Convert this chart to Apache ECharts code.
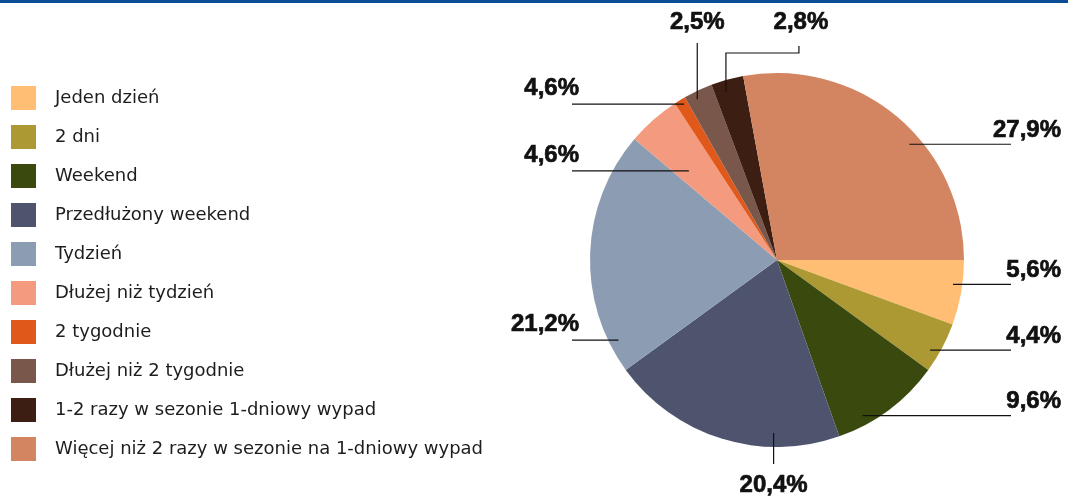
<!DOCTYPE html>
<html>
<head>
<meta charset="utf-8">
<script src="https://cdn.jsdelivr.net/npm/echarts@6/dist/echarts.min.js"></script>
<style>
  html, body { margin: 0; padding: 0; background: #fff; }
  #container { width: 1068px; height: 498px; }
</style>
</head>
<body>
<div id="container"></div>
<script>
// categories and values (percent of respondents)
const categories = [
  'Jeden dzień',
  '2 dni',
  'Weekend',
  'Przedłużony weekend',
  'Tydzień',
  'Dłużej niż tydzień',
  '2 tygodnie',
  'Dłużej niż 2 tygodnie',
  '1-2 razy w sezonie 1-dniowy wypad',
  'Więcej niż 2 razy w sezonie na 1-dniowy wypad'
];
const values = [5.6, 4.4, 9.6, 20.4, 21.2, 4.6, 1.0, 2.5, 2.8, 27.9];
// labels as printed on the original (the 2 tygodnie label reads 4,6%)
const labelTexts = ['5,6%', '4,4%', '9,6%', '20,4%', '21,2%', '4,6%', '4,6%', '2,5%', '2,8%', '27,9%'];
const colors = ['#FFBE73', '#AD9933', '#3A4A0F', '#4F546E', '#8C9DB3',
  '#F49A7E', '#E0581A', '#7A574B', '#3D1E13', '#D38562'];

// where each leader line starts inside its slice (fraction of slice angle, fraction of radius)
// and which way it runs
const labelSpots = [
  {t: 0.39, rf: 0.95, side: 'right'},
  {t: 0.65, rf: 0.95, side: 'right'},
  {t: 0.73, rf: 0.95, side: 'right'},
  {t: 0.28, rf: 0.925, side: 'down'},
  {t: 0.12, rf: 0.95, side: 'left'},
  {t: 0.30, rf: 0.67, side: 'left'},
  {t: 0.64, rf: 0.97, side: 'left'},
  {t: 0.35, rf: 0.96, side: 'up'},
  {t: 0.36, rf: 0.94, side: 'upRight', dx: 73},
  {t: 0.59, rf: 0.94, side: 'right'}
];

const cx = 777, cy = 260, R = 187;
const total = values.reduce((a, b) => a + b, 0);

function anchorOf(i) {
  let before = 0;
  for (let k = 0; k < i; k++) before += values[k];
  const s = -before / total * 360;
  const e = s - values[i] / total * 360;
  const spot = labelSpots[i];
  const a = (s + spot.t * (e - s)) * Math.PI / 180;
  const r = spot.rf * R;
  return [cx + r * Math.cos(a), cy - r * Math.sin(a)];
}

function placeLabel(params) {
  const i = params.dataIndex;
  const spot = labelSpots[i];
  const [ax, ay] = anchorOf(i);
  if (spot.side === 'right') {
    return {
      x: 1061, y: ay - 14, align: 'right', verticalAlign: 'middle',
      labelLinePoints: [[ax, ay], [1011, ay], [1011, ay]]
    };
  }
  if (spot.side === 'left') {
    return {
      x: 579, y: ay - 16, align: 'right', verticalAlign: 'middle',
      labelLinePoints: [[ax, ay], [572, ay], [572, ay]]
    };
  }
  if (spot.side === 'down') {
    return {
      x: ax, y: 485, align: 'center', verticalAlign: 'middle',
      labelLinePoints: [[ax, ay], [ax, 464], [ax, 464]]
    };
  }
  if (spot.side === 'up') {
    return {
      x: ax, y: 22, align: 'center', verticalAlign: 'middle',
      labelLinePoints: [[ax, ay], [ax, 43], [ax, 43]]
    };
  }
  // up then right
  return {
    x: ax + spot.dx + 2, y: 22, align: 'center', verticalAlign: 'middle',
    labelLinePoints: [[ax, ay], [ax, 53], [ax + spot.dx, 53], [ax + spot.dx, 46]]
  };
}

const graph = echarts.init(document.getElementById('container'));

const pieData = categories.map((name, i) => ({name: name, value: values[i]}));

const option = {
  animation: false,
  color: colors,
  graphic: [
    {
      type: 'rect',
      left: 0,
      top: 0,
      shape: {width: 1068, height: 3},
      style: {fill: '#0A4D97'}
    }
  ],
  legend: {
    orient: 'vertical',
    left: 6,
    top: 81,
    itemWidth: 25,
    itemHeight: 24,
    itemGap: 15,
    icon: 'rect',
    data: categories,
    textStyle: {
      fontFamily: 'DejaVu Sans',
      fontSize: 18,
      color: '#1d1d1d',
      padding: [0, 0, 0, 14]
    }
  },
  series: [
    {
      // the coloured slices
      type: 'pie',
      center: [cx, cy],
      radius: R,
      startAngle: 0,
      clockwise: true,
      itemStyle: {borderWidth: 0},
      emphasis: {disabled: true},
      label: {show: false},
      labelLine: {show: false},
      data: pieData
    },
    {
      // same pie, transparent, on top so the leader lines run over the slices
      type: 'pie',
      z: 5,
      silent: true,
      center: [cx, cy],
      radius: R,
      startAngle: 0,
      clockwise: true,
      avoidLabelOverlap: false,
      itemStyle: {color: 'rgba(0,0,0,0)', borderWidth: 0},
      emphasis: {disabled: true},
      label: {
        show: true,
        position: 'outside',
        formatter: (p) => labelTexts[p.dataIndex],
        fontFamily: 'Liberation Sans',
        fontWeight: 'bold',
        fontSize: 24,
        color: '#111',
        textBorderColor: '#111',
        textBorderWidth: 0.7
      },
      labelLine: {
        show: true,
        lineStyle: {color: '#111', width: 1.2}
      },
      labelLayout: placeLabel,
      data: pieData
    }
  ]
};

graph.setOption(option);
</script>
</body>
</html>
